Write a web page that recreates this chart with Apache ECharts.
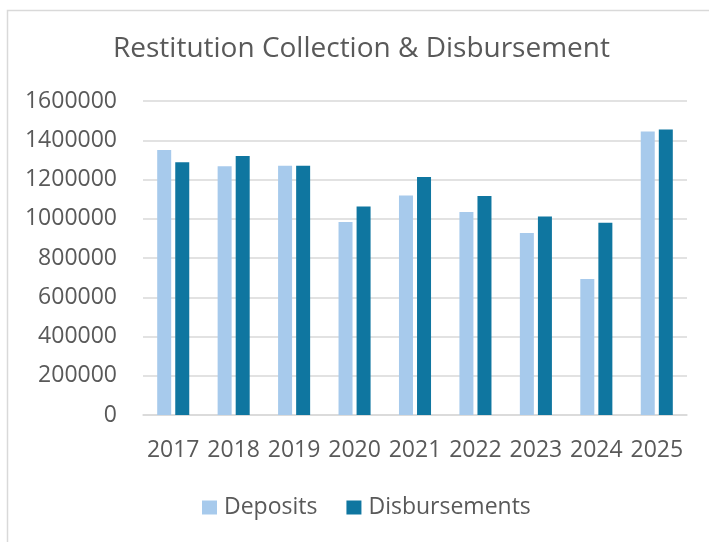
<!DOCTYPE html>
<html>
<head>
<meta charset="utf-8">
<script src="https://cdn.jsdelivr.net/npm/echarts@6/dist/echarts.min.js"></script>
<style>html,body{margin:0;padding:0;background:#fff;}#c{width:709px;height:542px;}</style>
</head>
<body>
<div id="c"></div>
<script>
const categories = ['2017','2018','2019','2020','2021','2022','2023','2024','2025'];
const deposits = [1350000, 1267000, 1270000, 983000, 1119000, 1034000, 927000, 693000, 1445000];
const disbursements = [1288000, 1320000, 1270000, 1063000, 1213000, 1116000, 1012000, 980000, 1455000];
const yTicks = {min: 0, max: 1600000, interval: 200000};

const chart = echarts.init(document.getElementById('c'), null, {renderer: 'canvas'});
const font = '"Open Sans", "Noto Sans", sans-serif';
chart.setOption({
  animation: false,
  backgroundColor: '#fff',
  graphic: [{
    type: 'rect', left: 5, top: 8, silent: true,
    shape: {width: 720, height: 540},
    style: {fill: 'none', stroke: '#d9d9d9', lineWidth: 1.5}
  }],
  title: {
    text: 'Restitution Collection & Disbursement',
    left: 113, top: 35,
    padding: 0,
    textStyle: {fontFamily: font, fontSize: 28, fontWeight: 'normal', color: '#595959'}
  },
  legend: {
    data: ['Deposits', 'Disbursements'],
    left: 202, top: 496,
    padding: 0,
    icon: 'rect', itemWidth: 15, itemHeight: 14, itemGap: 29,
    textStyle: {fontFamily: font, fontSize: 23, color: '#595959', padding: [0, 0, 0, 2]}
  },
  grid: {left: 143, right: 22, top: 101, bottom: 127, containLabel: false},
  xAxis: {
    type: 'category', data: categories,
    axisLine: {show: true, lineStyle: {color: '#d9d9d9', width: 1.5}},
    axisTick: {show: false},
    axisLabel: {fontFamily: font, fontSize: 23, color: '#595959', margin: 24, interval: 0}
  },
  yAxis: {
    type: 'value', min: yTicks.min, max: yTicks.max, interval: yTicks.interval,
    axisLine: {show: false}, axisTick: {show: false},
    splitLine: {lineStyle: {color: '#d9d9d9', width: 1.5}},
    axisLabel: {fontFamily: font, fontSize: 23, color: '#595959', margin: 26,
      formatter: v => String(v)}
  },
  series: [
    {name: 'Deposits', type: 'bar', data: deposits, barWidth: 14, barGap: '29%',
     itemStyle: {color: '#A7CAEC'}},
    {name: 'Disbursements', type: 'bar', data: disbursements, barWidth: 14, barGap: '29%',
     itemStyle: {color: '#0F76A0'}}
  ]
});
</script>
</body>
</html>
